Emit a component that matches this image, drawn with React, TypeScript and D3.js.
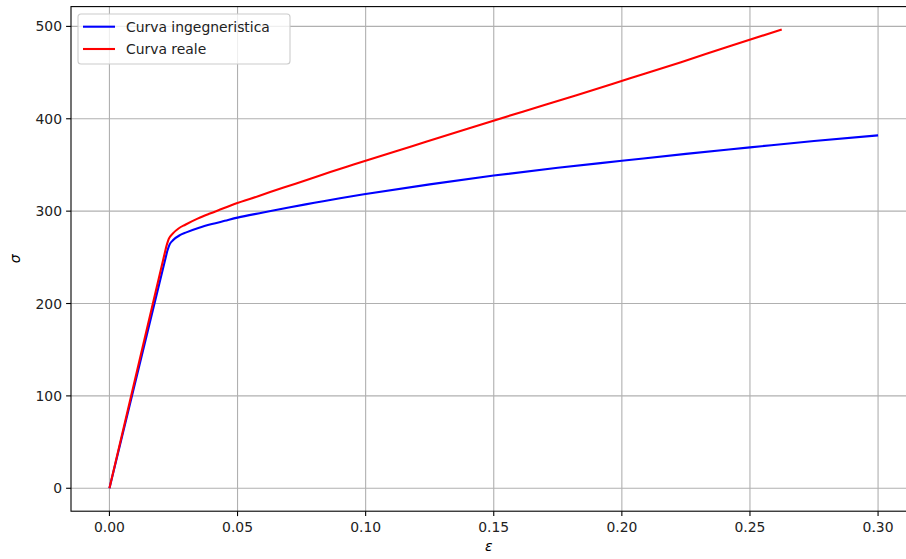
import React, { useEffect, useRef } from "react";
import * as d3 from "d3";

// curva ingegneristica (deformazione, tensione)
const engStrain = [0, 0.0225, 0.0235, 0.025, 0.0275, 0.03, 0.035, 0.04, 0.045, 0.05, 0.06, 0.07, 0.08, 0.09, 0.1, 0.125, 0.15, 0.175, 0.2, 0.225, 0.25, 0.275, 0.3];
const engStress = [0, 256, 264, 269, 274, 277, 282, 286, 289.5, 293, 298.5, 304, 309, 314, 318.5, 329, 338.5, 347, 354.5, 362, 369, 376, 382];

// curva reale
const trueStrain = [0, 0.0222, 0.0232, 0.0247, 0.0271, 0.0296, 0.0344, 0.0392, 0.044, 0.0488, 0.0583, 0.0677, 0.077, 0.0862, 0.0953, 0.1178, 0.1398, 0.1613, 0.1823, 0.2029, 0.2231, 0.2429, 0.2624];
const trueStress = [0, 261.8, 270.2, 275.7, 281.5, 285.3, 291.9, 297.4, 302.5, 307.7, 316.4, 325.3, 333.7, 342.3, 350.4, 370.1, 389.3, 407.7, 425.4, 443.5, 461.3, 479.4, 496.6];

const xTicks = [0, 0.05, 0.1, 0.15, 0.2, 0.25, 0.3];
const yTicks = [0, 100, 200, 300, 400, 500];

const series = [
  { name: "Curva ingegneristica", color: "blue", x: engStrain, y: engStress },
  { name: "Curva reale", color: "red", x: trueStrain, y: trueStress },
];

const App: React.FC = () => {
  const svgRef = useRef<any>();

  useEffect(() => {
    const font = "DejaVu Sans, sans-serif";
    const fs = 13.9;

    const svg = d3.select(svgRef.current);
    svg.selectAll("*").remove();

    const x = d3.scaleLinear().domain([-0.015, 0.315]).range([71, 916.5]);
    const y = d3.scaleLinear().domain([-24.83, 521.43]).range([511.2, 6.6]);

    const [x0, x1] = x.range();
    const [y0, y1] = y.range();

    // griglia
    const grid = svg.append("g").attr("stroke", "#b0b0b0").attr("stroke-width", 1.1);
    grid
      .selectAll()
      .data(xTicks)
      .join("line")
      .attr("x1", (d) => x(d))
      .attr("x2", (d) => x(d))
      .attr("y1", y0)
      .attr("y2", y1);
    grid
      .selectAll()
      .data(yTicks)
      .join("line")
      .attr("x1", x0)
      .attr("x2", x1)
      .attr("y1", (d) => y(d))
      .attr("y2", (d) => y(d));

    // curve: tratto elastico rettilineo, tratto plastico smussato
    const elastic = d3
      .line<[number, number]>()
      .x((d) => x(d[0]))
      .y((d) => y(d[1]));
    const plastic = d3
      .line<[number, number]>()
      .x((d) => x(d[0]))
      .y((d) => y(d[1]))
      .curve(d3.curveMonotoneX);

    series.forEach((s) => {
      const pts = s.x.map((v, i) => [v, s.y[i]] as [number, number]);
      const d = (elastic(pts.slice(0, 2)) || "") + (plastic(pts.slice(1)) || "").replace(/^M[^LC]*/, "");
      svg
        .append("path")
        .attr("fill", "none")
        .attr("stroke", s.color)
        .attr("stroke-width", 2.1)
        .attr("stroke-linejoin", "round")
        .attr("d", d);
    });

    // assi
    svg
      .append("rect")
      .attr("x", x0)
      .attr("y", y1)
      .attr("width", x1 - x0)
      .attr("height", y0 - y1)
      .attr("fill", "none")
      .attr("stroke", "black")
      .attr("stroke-width", 1.1);

    const xAxis = svg.append("g");
    xTicks.forEach((t) => {
      xAxis
        .append("line")
        .attr("x1", x(t))
        .attr("x2", x(t))
        .attr("y1", y0)
        .attr("y2", y0 + 4.9)
        .attr("stroke", "black")
        .attr("stroke-width", 1.1);
      xAxis
        .append("text")
        .attr("x", x(t))
        .attr("y", y0 + 20.5)
        .attr("text-anchor", "middle")
        .attr("font-family", font)
        .attr("font-size", fs)
        .attr("fill", "#222")
        .text(t.toFixed(2));
    });

    const yAxis = svg.append("g");
    yTicks.forEach((t) => {
      yAxis
        .append("line")
        .attr("x1", x0 - 4.9)
        .attr("x2", x0)
        .attr("y1", y(t))
        .attr("y2", y(t))
        .attr("stroke", "black")
        .attr("stroke-width", 1.1);
      yAxis
        .append("text")
        .attr("x", x0 - 9)
        .attr("y", y(t))
        .attr("dy", "0.36em")
        .attr("text-anchor", "end")
        .attr("font-family", font)
        .attr("font-size", fs)
        .attr("fill", "#222")
        .text(String(t));
    });

    svg
      .append("text")
      .attr("x", (x0 + x1) / 2 - 5)
      .attr("y", 551)
      .attr("text-anchor", "middle")
      .attr("font-family", font)
      .attr("font-style", "italic")
      .attr("font-size", fs)
      .text("ε");

    svg
      .append("text")
      .attr("transform", `translate(20, ${(y0 + y1) / 2}) rotate(-90)`)
      .attr("text-anchor", "middle")
      .attr("font-family", font)
      .attr("font-style", "italic")
      .attr("font-size", fs)
      .text("σ");

    // legenda
    const legend = svg.append("g").attr("transform", "translate(78, 14)");
    legend
      .append("rect")
      .attr("width", 212)
      .attr("height", 50)
      .attr("rx", 3)
      .attr("fill", "white")
      .attr("fill-opacity", 0.8)
      .attr("stroke", "#cccccc")
      .attr("stroke-width", 1.1);
    series.forEach((s, i) => {
      const ly = 12.7 + i * 22.3;
      legend
        .append("line")
        .attr("x1", 5)
        .attr("x2", 37)
        .attr("y1", ly)
        .attr("y2", ly)
        .attr("stroke", s.color)
        .attr("stroke-width", 2.1);
      legend
        .append("text")
        .attr("x", 48)
        .attr("y", ly)
        .attr("dy", "0.36em")
        .attr("font-family", font)
        .attr("font-size", fs)
        .attr("fill", "#222")
        .text(s.name);
    });
  }, []);

  return (
    <svg
      ref={svgRef}
      width={906}
      height={559}
      style={{ position: "absolute", left: 0, top: 0, background: "white" }}
    ></svg>
  );
};

export default App;
